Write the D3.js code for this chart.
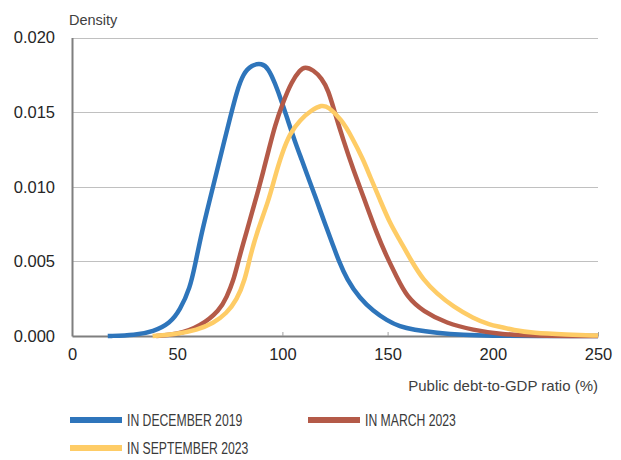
<!DOCTYPE html>
<html>
<head>
<meta charset="utf-8">
<script src="https://cdn.jsdelivr.net/npm/d3@7"></script>
<style>
  html, body { margin: 0; padding: 0; background: #fff; }
  svg { display: block; }
</style>
</head>
<body>
<div id="chart"></div>
<script>
// ---- Data ----
const seriesNames = ["IN DECEMBER 2019", "IN MARCH 2023", "IN SEPTEMBER 2023"];

const xDec2019 = [17, 30, 38.6, 46.6, 51.3, 56.1, 58.7, 61.6, 65.6, 68.8, 71.9, 75.1, 78.3, 81.4, 85.4, 90.2, 93.3, 96.5, 99.7, 102.8, 106, 109.2, 112.3, 115.5, 118, 121.1, 124, 126.6, 130.6, 136.9, 143.2, 149.6, 155.9, 162.2, 173.3, 186, 198.7, 220, 250];
const yDec2019 = [0, 0.00005, 0.00029, 0.00085, 0.00174, 0.0032, 0.0049, 0.0069, 0.0092, 0.0110, 0.0128, 0.01459, 0.01637, 0.0176, 0.01816, 0.01828, 0.01794, 0.01694, 0.0157, 0.01436, 0.01302, 0.0118, 0.0106, 0.0094, 0.0084, 0.0072, 0.0061, 0.0051, 0.0038, 0.0025, 0.00168, 0.00105, 0.00062, 0.00042, 0.00021, 0.00007, 0.00002, 0, 0];

const xMar2023 = [40, 50, 60.8, 70.3, 73.5, 76.7, 79, 81.4, 84.6, 87, 89, 91.2, 93.3, 96.5, 100.4, 104.4, 108.4, 110.7, 114.7, 118.7, 121.8, 125, 128.9, 133.7, 138.5, 144.8, 149.6, 154.3, 159.1, 167, 178.1, 190.7, 203.4, 217.7, 250];
const yMar2023 = [0, 0.0001, 0.00062, 0.00174, 0.0026, 0.0037, 0.0050, 0.0062, 0.0078, 0.0090, 0.0100, 0.0112, 0.01235, 0.01414, 0.0157, 0.01705, 0.01783, 0.01805, 0.01783, 0.01727, 0.01649, 0.01493, 0.01314, 0.01113, 0.00934, 0.00688, 0.00531, 0.00397, 0.00263, 0.00163, 0.00085, 0.0004, 0.00013, 0.00002, 0];

const xSep2023 = [38.3, 49.8, 59.3, 67.2, 73.5, 78.3, 82.2, 84.6, 88, 93.3, 96.5, 99.7, 103.6, 108.4, 113.9, 118.7, 121.8, 128.2, 132.9, 138.5, 141.6, 146.4, 151.1, 155.9, 161.4, 167, 173.3, 181.2, 190.7, 198.7, 203.4, 209.7, 219, 235, 250];
const ySep2023 = [0, 0.00013, 0.0004, 0.00085, 0.00152, 0.00241, 0.00375, 0.0053, 0.0070, 0.0090, 0.0107, 0.0122, 0.01359, 0.01448, 0.01515, 0.01548, 0.01537, 0.01448, 0.01336, 0.0118, 0.0107, 0.00912, 0.00755, 0.0064, 0.0050, 0.00375, 0.00286, 0.00196, 0.00119, 0.00074, 0.00062, 0.0004, 0.0002, 0.0001, 0.00003];

const xTicks = [0, 50, 100, 150, 200, 250];
const yTicks = [0, 0.005, 0.010, 0.015, 0.020];
const seriesColors = ["#2e75bb", "#b45a48", "#fecc66"];

// ---- Layout ----
const W = 621, H = 460;

const svg = d3.select("#chart").append("svg")
  .attr("width", W).attr("height", H);

const x = d3.scaleLinear().domain([0, 250]).range([72, 598]);
const y = d3.scaleLinear().domain([0, 0.020]).range([336, 37.5]);

const font = "'Liberation Sans', Arial, Helvetica, sans-serif";
const textColor = "#262626";

// Gridlines
svg.append("g")
  .selectAll("line")
  .data(yTicks.filter(d => d > 0))
  .join("line")
  .attr("x1", x(0)).attr("x2", x(250))
  .attr("y1", d => Math.round(y(d)) + 0.5).attr("y2", d => Math.round(y(d)) + 0.5)
  .attr("stroke", "#c0c0c0").attr("stroke-width", 1);

// Y axis
const yAxis = d3.axisLeft(y).tickValues(yTicks).tickFormat(d3.format(".3f")).tickSize(0).tickPadding(17);
const gy = svg.append("g").attr("transform", `translate(${x(0)},0)`).call(yAxis);
gy.select(".domain").attr("stroke", "#7f7f7f").attr("stroke-width", 2);
gy.selectAll("text").attr("font-family", font).attr("font-size", "16.5px").attr("fill", textColor);

// X axis
const xAxis = d3.axisBottom(x).tickValues(xTicks).tickFormat(d3.format("d")).tickSize(0).tickPadding(12);
const gx = svg.append("g").attr("transform", `translate(0,${y(0)})`).call(xAxis);
gx.select(".domain").attr("stroke", "#7f7f7f").attr("stroke-width", 2);
gx.selectAll("text").attr("font-family", font).attr("font-size", "16.5px").attr("fill", textColor);
gx.selectAll(".tick").filter(d => d > 0).append("line")
  .attr("y1", 0).attr("y2", -4).attr("stroke", "#a0a0a0").attr("stroke-width", 1);

// Axis titles
svg.append("text").attr("x", 69).attr("y", 25)
  .attr("font-family", font).attr("font-size", "14.5px").attr("fill", "#404040")
  .text("Density");
svg.append("text").attr("x", 598).attr("y", 391).attr("text-anchor", "end")
  .attr("font-family", font).attr("font-size", "15px").attr("fill", "#404040")
  .text("Public debt-to-GDP ratio (%)");

// Lines
const series = [
  { name: seriesNames[0], xs: xDec2019, ys: yDec2019, color: seriesColors[0] },
  { name: seriesNames[1], xs: xMar2023, ys: yMar2023, color: seriesColors[1] },
  { name: seriesNames[2], xs: xSep2023, ys: ySep2023, color: seriesColors[2] }
];

const line = d3.line()
  .x(d => x(d[0]))
  .y(d => y(d[1]))
  .curve(d3.curveBasis);

svg.append("g").selectAll("path")
  .data(series)
  .join("path")
  .attr("d", s => line(s.xs.map((v, i) => [v, s.ys[i]])))
  .attr("fill", "none")
  .attr("stroke", s => s.color)
  .attr("stroke-width", 4.5)
  .attr("stroke-linejoin", "round")
  .attr("stroke-linecap", "butt");

// Legend
const legendPos = [[70, 420], [308, 420], [70, 448]];
const lg = svg.append("g");
series.forEach((s, i) => {
  const [lx, ly] = legendPos[i];
  lg.append("line")
    .attr("x1", lx).attr("x2", lx + 52).attr("y1", ly).attr("y2", ly)
    .attr("stroke", s.color).attr("stroke-width", 6);
  lg.append("text")
    .attr("transform", `translate(${lx + 57},${ly + 6}) scale(0.74,1)`)
    .attr("font-family", font)
    .attr("font-size", "16.5px").attr("fill", "#3a3a3a")
    .text(s.name);
});
</script>
</body>
</html>
